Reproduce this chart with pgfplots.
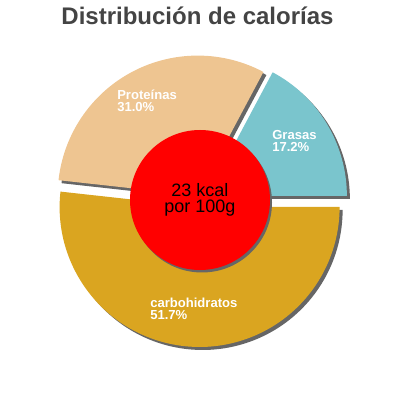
\documentclass[border=0pt]{standalone}
\usepackage{pgfplots}
\usepackage{pgfplotstable}
\usepackage{fontspec}
\setmainfont{Liberation Sans}
\pgfplotsset{compat=1.18}

\definecolor{fatcol}{HTML}{7AC5CD}
\definecolor{protcol}{HTML}{EEC591}
\definecolor{carbcol}{HTML}{DAA520}
\definecolor{shadowgray}{HTML}{666666}
\definecolor{titlegray}{HTML}{444444}

% slices counterclockwise from 3 o'clock; explode and label position in px
\pgfplotstableread{
name          value explode lx  ly  col
Grasas        17.2  8       272 140 fatcol
Proteínas     31.0  5       117 100 protcol
carbohidratos 51.7  7       150 308 carbcol
}\calories

\newcommand\R{105pt} % 140 px

\begin{document}
\begin{tikzpicture}
\begin{axis}[
    x=0.75pt, y=0.75pt,
    xmin=0, xmax=400,
    ymin=-400, ymax=0,
    hide axis,
    clip=false,
]
\pgfplotsextra{
  % total of the values
  \gdef\total{0}
  \foreach \i in {0,1,2}{
    \pgfplotstablegetelem{\i}{value}\of\calories
    \pgfmathsetmacro\t{\total+\pgfplotsretval}
    \xdef\total{\t}
  }
  % shadows, then slices
  \foreach \layer in {0,1}{
    \gdef\acc{0}
    \foreach \i in {0,1,2}{
      \pgfplotstablegetelem{\i}{value}\of\calories \let\v\pgfplotsretval
      \pgfplotstablegetelem{\i}{explode}\of\calories \let\d\pgfplotsretval
      \pgfplotstablegetelem{\i}{col}\of\calories \let\c\pgfplotsretval
      \pgfmathsetmacro\aS{\acc}
      \pgfmathsetmacro\aE{\acc+\v/\total*360}
      \pgfmathsetmacro\aM{(\aS+\aE)/2}
      \pgfmathsetmacro\cx{200+\d*cos(\aM)+3*(1-\layer)}
      \pgfmathsetmacro\cy{-200+\d*sin(\aM)-3*(1-\layer)}
      \ifnum\layer=0 \def\fc{shadowgray}\else \let\fc\c\fi
      \fill[color=\fc] (axis cs:\cx,\cy) -- ++(\aS:\R)
        arc[start angle=\aS, end angle=\aE, radius=\R] -- cycle;
      \xdef\acc{\aE}
    }
  }
  % labels
  \foreach \i in {0,1,2}{
    \pgfplotstablegetelem{\i}{name}\of\calories \let\n\pgfplotsretval
    \pgfplotstablegetelem{\i}{value}\of\calories \let\v\pgfplotsretval
    \pgfplotstablegetelem{\i}{lx}\of\calories \let\lx\pgfplotsretval
    \pgfplotstablegetelem{\i}{ly}\of\calories \let\ly\pgfplotsretval
    \pgfmathsetmacro\lyb{-\ly-11.5}
    \node[anchor=base west, inner sep=0, text=white,
          font=\fontsize{9.8pt}{11pt}\selectfont\bfseries]
      at (axis cs:\lx,-\ly) {\n};
    \node[anchor=base west, inner sep=0, text=white,
          font=\fontsize{9.8pt}{11pt}\selectfont\bfseries]
      at (axis cs:\lx,\lyb) {\v\%};
  }
  % centre disc
  \fill[shadowgray] (axis cs:202,-202.5) circle[radius=52.5pt];
  \fill[red] (axis cs:200,-200) circle[radius=52.5pt];
}
\node[anchor=base, inner sep=0, font=\fontsize{13.5pt}{16pt}\selectfont]
  at (axis cs:200,-197) {23 kcal};
\node[anchor=base, inner sep=0, font=\fontsize{13.5pt}{16pt}\selectfont]
  at (axis cs:200,-213) {por 100g};
\node[anchor=base, inner sep=0, text=titlegray,
      font=\fontsize{18pt}{20pt}\selectfont\bfseries]
  at (axis cs:197.5,-25) {Distribución de calorías};
\end{axis}
\pgfresetboundingbox
\path (current axis.south west) rectangle (current axis.north east);
\end{tikzpicture}
\end{document}
